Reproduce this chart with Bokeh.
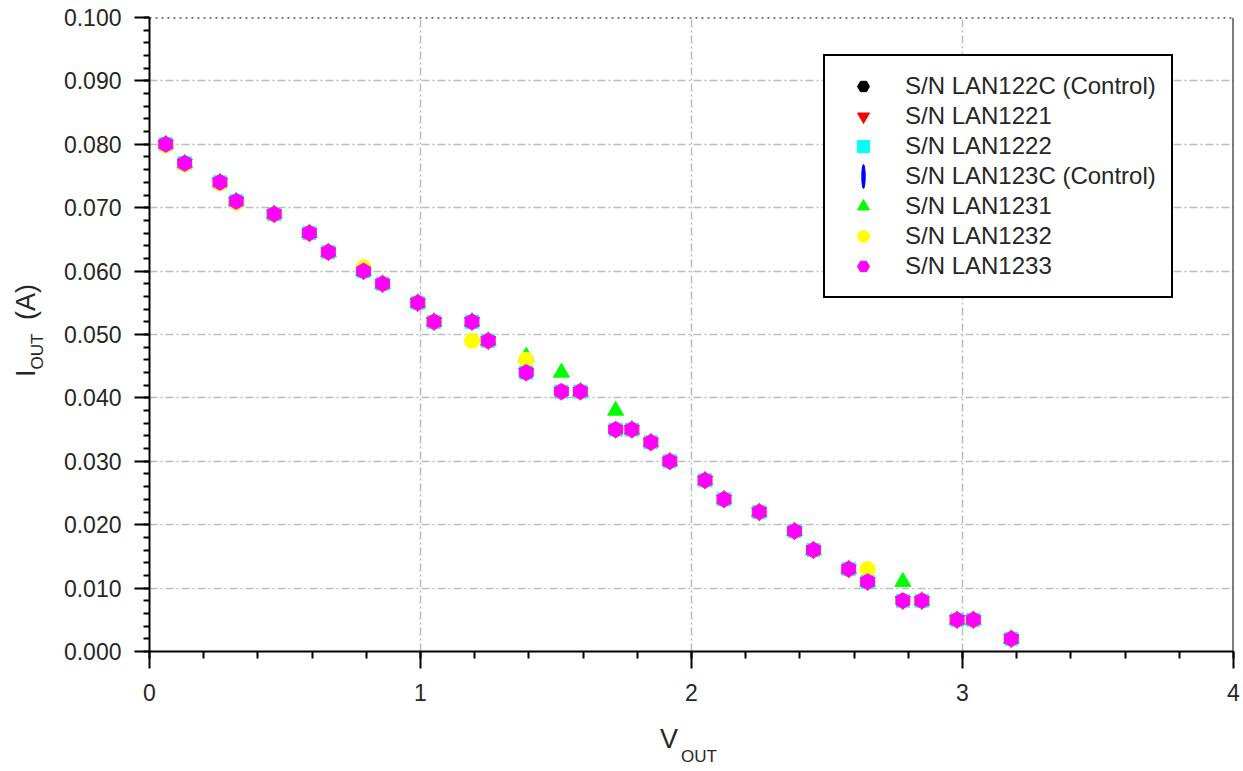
import numpy as np
from bokeh.plotting import figure
from bokeh.layouts import row, column
from bokeh.models import (Range1d, FixedTicker, Legend, LegendItem, Span, Div,
                          ColumnDataSource)
from bokeh.embed import file_html
from bokeh.resources import INLINE

# Output voltage (V) at each measurement step
v_out = [0.06, 0.13, 0.26, 0.32, 0.46, 0.59, 0.66, 0.79, 0.86, 0.99, 1.05, 1.19,
         1.25, 1.39, 1.52, 1.59, 1.72, 1.78, 1.85, 1.92, 2.05, 2.12, 2.25, 2.38,
         2.45, 2.58, 2.65, 2.78, 2.85, 2.98, 3.04, 3.18]

# Output current (A) for each serial number
i_lan122c = [0.080, 0.077, 0.074, 0.071, 0.069, 0.066, 0.063, 0.060, 0.058, 0.055,
             0.052, 0.052, 0.049, 0.044, 0.041, 0.041, 0.035, 0.035, 0.033, 0.030,
             0.027, 0.024, 0.022, 0.019, 0.016, 0.013, 0.011, 0.008, 0.008, 0.005,
             0.005, 0.002]
i_lan1221 = list(i_lan122c)
i_lan1222 = list(i_lan122c)
i_lan123c = list(i_lan122c)
i_lan1231 = [0.080, 0.077, 0.074, 0.071, 0.069, 0.066, 0.063, 0.060, 0.058, 0.055,
             0.052, 0.052, 0.049, 0.0465, 0.044, 0.041, 0.038, 0.035, 0.033, 0.030,
             0.027, 0.024, 0.022, 0.019, 0.016, 0.013, 0.011, 0.011, 0.008, 0.005,
             0.005, 0.002]
i_lan1232 = [0.0798, 0.0768, 0.0738, 0.0708, 0.069, 0.066, 0.063, 0.0606, 0.058, 0.055,
             0.052, 0.049, 0.049, 0.046, 0.041, 0.041, 0.035, 0.035, 0.033, 0.030,
             0.027, 0.024, 0.022, 0.019, 0.016, 0.013, 0.013, 0.008, 0.008, 0.005,
             0.005, 0.002]
i_lan1233 = [0.080, 0.077, 0.074, 0.071, 0.069, 0.066, 0.063, 0.060, 0.058, 0.055,
             0.052, 0.052, 0.049, 0.044, 0.041, 0.041, 0.035, 0.035, 0.033, 0.030,
             0.027, 0.024, 0.022, 0.019, 0.016, 0.013, 0.011, 0.008, 0.008, 0.005,
             0.005, 0.002]

series_names = ["S/N LAN122C (Control)", "S/N LAN1221", "S/N LAN1222",
                "S/N LAN123C (Control)", "S/N LAN1231", "S/N LAN1232", "S/N LAN1233"]
series_values = [i_lan122c, i_lan1221, i_lan1222, i_lan123c, i_lan1231, i_lan1232, i_lan1233]

y_ticks = [0.0, 0.01, 0.02, 0.03, 0.04, 0.05, 0.06, 0.07, 0.08, 0.09, 0.1]
y_tick_labels = ["0.000", "0.010", "0.020", "0.030", "0.040", "0.050",
                 "0.060", "0.070", "0.080", "0.090", "0.100"]
x_ticks = [0, 1, 2, 3, 4]
x_tick_labels = ["0", "1", "2", "3", "4"]

FONT = "Liberation Sans"
TXT = "#262626"

LEFT_W = 60      # strip holding the vertical axis title
BOTTOM_H = 60    # strip holding the horizontal axis title
W, H = 1243, 771

p = figure(width=W - LEFT_W, height=H - BOTTOM_H, output_backend="svg",
           toolbar_location=None, x_range=Range1d(0, 4), y_range=Range1d(0, 0.1),
           min_border_left=149 - LEFT_W, min_border_right=10, min_border_top=17,
           min_border_bottom=60, margin=0)
p.outline_line_color = None
p.background_fill_color = "white"
p.border_fill_color = "white"

# axes
p.xaxis.ticker = FixedTicker(ticks=x_ticks,
                             minor_ticks=[round(0.2 * k, 1) for k in range(21)])
p.yaxis.ticker = FixedTicker(ticks=y_ticks,
                             minor_ticks=[round(0.002 * k, 3) for k in range(51)])
p.xaxis.major_label_overrides = {t: s for t, s in zip(x_ticks, x_tick_labels)}
p.yaxis.major_label_overrides = {t: s for t, s in zip(y_ticks, y_tick_labels)}

for ax in (p.xaxis[0], p.yaxis[0]):
    ax.axis_line_width = 2
    ax.axis_line_color = "black"
    ax.major_tick_line_width = 2
    ax.minor_tick_line_width = 2
    ax.major_tick_in = 0
    ax.minor_tick_in = 0
    ax.major_label_text_font = FONT
    ax.major_label_text_font_size = "23px"
    ax.major_label_text_color = TXT
p.xaxis.major_tick_out = 17
p.xaxis.minor_tick_out = 7
p.xaxis.major_label_standoff = 15
p.yaxis.major_tick_out = 15
p.yaxis.minor_tick_out = 6
p.yaxis.major_label_standoff = 13

# grid
for g in (p.xgrid[0], p.ygrid[0]):
    g.grid_line_color = "#bdbdbd"
    g.grid_line_width = 1.5
    g.grid_line_dash = "8 3 2 3"

# frame edges: solid right, dotted top
p.add_layout(Span(location=4, dimension="height", line_color="black", line_width=2))
p.add_layout(Span(location=0.1, dimension="width", line_color="black",
                  line_width=2, line_dash="2 4"))

# series markers
styles = [
    dict(marker="hex", angle=np.pi / 2, fill_color="black", line_color="black", size=15),
    dict(marker="inverted_triangle", fill_color="#ff0000", line_color="#ff0000", size=15),
    dict(marker="square", fill_color="#00ffff", line_color="#00ffff", size=13),
    None,
    dict(marker="triangle", fill_color="#00ff00", line_color="#00ff00", size=16),
    dict(marker="circle", fill_color="#ffff00", line_color="#ffff00", size=15),
    dict(marker="hex", angle=np.pi / 2, fill_color="#ff00ff", line_color="#ff00ff", size=16),
]

items = []
for name, vals, st in zip(series_names, series_values, styles):
    src = ColumnDataSource(data=dict(x=v_out, y=vals))
    if st is None:
        # thin vertical bar marker
        r = p.ellipse("x", "y", source=src, width=2, height=14,
                      width_units="screen", height_units="screen",
                      fill_color="#0000ff", line_color="#0000ff")
    else:
        r = p.scatter("x", "y", source=src, **st)
    items.append(LegendItem(label=name, renderers=[r]))

legend = Legend(items=items, location=(674, 353))
legend.label_text_font = FONT
legend.label_text_font_size = "24px"
legend.label_text_color = TXT
legend.border_line_color = "black"
legend.border_line_alpha = 1
legend.border_line_width = 2
legend.background_fill_color = "white"
legend.background_fill_alpha = 1
legend.padding = 15
legend.spacing = 0
legend.glyph_width = 46
legend.glyph_height = 30
legend.label_height = 30
legend.label_standoff = 19
legend.margin = 0
p.add_layout(legend)

# axis titles with subscripts
base = ("font-family:'Liberation Sans'; font-size:27px; line-height:30px; "
        "color:%s; white-space:nowrap; margin:0; padding:0;" % TXT)
sub = "font-size:17px; position:relative; top:%dpx; margin-left:%dpx;"

x_title = Div(
    width=W - LEFT_W, height=BOTTOM_H, margin=0,
    text=('<div style="position:relative; left:600px; top:13px; %s">V'
          '<span style="%s">OUT</span></div>') % (base, sub % (14, 3)))

y_title = Div(
    width=LEFT_W, height=H, margin=0,
    text=('<div style="position:relative; left:11px; top:377px; '
          'transform-origin:0 0; transform:rotate(-90deg); %s">I'
          '<span style="%s">OUT</span>'
          '<span style="margin-left:6px;"> (A)</span></div>') % (base, sub % (8, 0)))

layout = row(y_title, column(p, x_title, spacing=0, margin=0), spacing=0, margin=0)

open("out.html", "w").write(file_html(layout, INLINE))
